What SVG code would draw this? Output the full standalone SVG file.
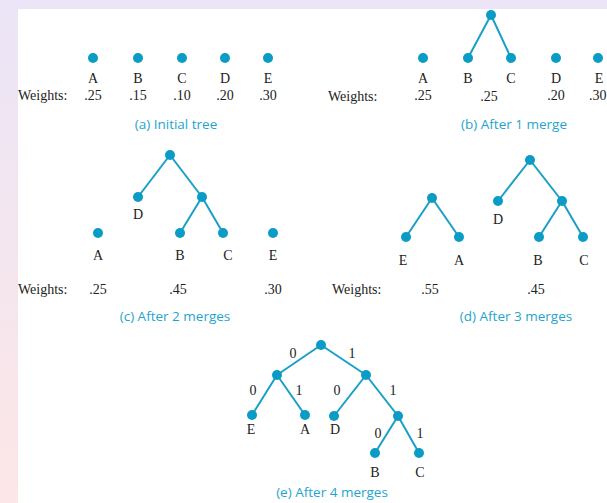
<svg xmlns="http://www.w3.org/2000/svg" width="607" height="503" viewBox="0 0 607 503">
  <defs>
    <linearGradient id="sideFade" x1="0" y1="0" x2="0" y2="1">
      <stop offset="0" stop-color="#ebe5f7"/>
      <stop offset="1" stop-color="#fce6e6"/>
    </linearGradient>
    <style>
      .lbl { font-family: "Liberation Serif", "Times New Roman", serif; font-size: 14px; fill: #222; text-anchor: middle; }
      .wt { font-family: "Liberation Serif", "Times New Roman", serif; font-size: 14px; fill: #222; }
      .cap { font-family: "Open Sans", "Noto Sans", sans-serif; font-size: 13.5px; fill: #1ea5cc; text-anchor: middle; }
      .node { fill: #0b9cc6; }
      .edge { stroke: #1a9fc8; stroke-width: 2; fill: none; stroke-linecap: round; }
    </style>
  </defs>

  <!-- page backdrop -->
  <rect x="0" y="0" width="607" height="503" fill="url(#sideFade)"/>
  <rect x="0" y="0" width="607" height="9" fill="#ebe5f7"/>
  <rect x="18" y="9" width="589" height="494" fill="#ffffff"/>

  <!-- (a) Initial tree -->
  <g id="panel-a">
    <g id="a-A"><circle class="node" cx="93" cy="58" r="5"/><text class="lbl" x="93" y="83">A</text><text class="lbl" x="93" y="100">.25</text></g>
    <g id="a-B"><circle class="node" cx="138" cy="58" r="5"/><text class="lbl" x="138" y="83">B</text><text class="lbl" x="138" y="100">.15</text></g>
    <g id="a-C"><circle class="node" cx="182" cy="58" r="5"/><text class="lbl" x="182" y="83">C</text><text class="lbl" x="182" y="100">.10</text></g>
    <g id="a-D"><circle class="node" cx="225" cy="58" r="5"/><text class="lbl" x="225" y="83">D</text><text class="lbl" x="225" y="100">.20</text></g>
    <g id="a-E"><circle class="node" cx="268" cy="58" r="5"/><text class="lbl" x="268" y="83">E</text><text class="lbl" x="268" y="100">.30</text></g>
    <text class="wt" x="18" y="100">Weights:</text>
    <text class="cap" x="176" y="129">(a)  Initial tree</text>
  </g>

  <!-- (b) After 1 merge -->
  <g id="panel-b">
    <g id="b-edges">
      <line class="edge" x1="491" y1="15" x2="468" y2="58"/>
      <line class="edge" x1="491" y1="15" x2="511" y2="58"/>
    </g>
    <g id="b-BC"><circle class="node" cx="491" cy="15" r="5"/></g>
    <g id="b-A"><circle class="node" cx="423" cy="58" r="5"/><text class="lbl" x="423" y="83">A</text><text class="lbl" x="423" y="100">.25</text></g>
    <g id="b-B"><circle class="node" cx="468" cy="58" r="5"/><text class="lbl" x="468" y="83">B</text></g>
    <g id="b-C"><circle class="node" cx="511" cy="58" r="5"/><text class="lbl" x="511" y="83">C</text></g>
    <text class="lbl" x="489" y="101">.25</text>
    <g id="b-D"><circle class="node" cx="556" cy="58" r="5"/><text class="lbl" x="556" y="83">D</text><text class="lbl" x="556" y="100">.20</text></g>
    <g id="b-E"><circle class="node" cx="598" cy="58" r="5"/><text class="lbl" x="599" y="83">E</text><text class="wt" x="589" y="100">.30</text></g>
    <text class="wt" x="328" y="101">Weights:</text>
    <text class="cap" x="514" y="129">(b)  After 1 merge</text>
  </g>

  <!-- (c) After 2 merges -->
  <g id="panel-c">
    <g id="c-edges">
      <line class="edge" x1="170" y1="155" x2="138" y2="197"/>
      <line class="edge" x1="170" y1="155" x2="202" y2="197"/>
      <line class="edge" x1="202" y1="197" x2="180" y2="233"/>
      <line class="edge" x1="202" y1="197" x2="223" y2="233"/>
    </g>
    <g id="c-root"><circle class="node" cx="170" cy="155" r="5"/></g>
    <g id="c-D"><circle class="node" cx="138" cy="197" r="5"/><text class="lbl" x="138" y="219">D</text></g>
    <g id="c-BC"><circle class="node" cx="202" cy="197" r="5"/></g>
    <g id="c-A"><circle class="node" cx="98" cy="233" r="5"/><text class="lbl" x="98" y="260">A</text></g>
    <g id="c-B"><circle class="node" cx="180" cy="233" r="5"/><text class="lbl" x="180" y="260">B</text></g>
    <g id="c-C"><circle class="node" cx="223" cy="233" r="5"/><text class="lbl" x="228" y="260">C</text></g>
    <g id="c-E"><circle class="node" cx="273" cy="233" r="5"/><text class="lbl" x="273" y="260">E</text></g>
    <text class="wt" x="18" y="294">Weights:</text>
    <text class="lbl" x="98" y="294">.25</text>
    <text class="lbl" x="178" y="294">.45</text>
    <text class="lbl" x="273" y="294">.30</text>
    <text class="cap" x="175" y="321">(c)  After 2 merges</text>
  </g>

  <!-- (d) After 3 merges -->
  <g id="panel-d">
    <g id="d-edges">
      <line class="edge" x1="432" y1="198" x2="406" y2="237"/>
      <line class="edge" x1="432" y1="198" x2="459" y2="237"/>
      <line class="edge" x1="530" y1="160" x2="498" y2="201"/>
      <line class="edge" x1="530" y1="160" x2="562" y2="201"/>
      <line class="edge" x1="562" y1="201" x2="539" y2="237"/>
      <line class="edge" x1="562" y1="201" x2="583" y2="237"/>
    </g>
    <g id="d-EA"><circle class="node" cx="432" cy="198" r="5"/></g>
    <g id="d-E"><circle class="node" cx="406" cy="237" r="5"/><text class="lbl" x="403" y="265">E</text></g>
    <g id="d-A"><circle class="node" cx="459" cy="237" r="5"/><text class="lbl" x="459" y="265">A</text></g>
    <g id="d-root"><circle class="node" cx="530" cy="160" r="5"/></g>
    <g id="d-D"><circle class="node" cx="498" cy="201" r="5"/><text class="lbl" x="498" y="224">D</text></g>
    <g id="d-BC"><circle class="node" cx="562" cy="201" r="5"/></g>
    <g id="d-B"><circle class="node" cx="539" cy="237" r="5"/><text class="lbl" x="538" y="265">B</text></g>
    <g id="d-C"><circle class="node" cx="583" cy="237" r="5"/><text class="lbl" x="584" y="265">C</text></g>
    <text class="wt" x="332" y="294">Weights:</text>
    <text class="lbl" x="430" y="294">.55</text>
    <text class="lbl" x="536" y="294">.45</text>
    <text class="cap" x="516" y="321">(d)  After 3 merges</text>
  </g>

  <!-- (e) After 4 merges -->
  <g id="panel-e">
    <g id="e-edges">
      <line class="edge" x1="321" y1="345" x2="277" y2="375"/>
      <line class="edge" x1="321" y1="345" x2="366" y2="375"/>
      <line class="edge" x1="277" y1="375" x2="252" y2="415"/>
      <line class="edge" x1="277" y1="375" x2="305" y2="415"/>
      <line class="edge" x1="366" y1="375" x2="334" y2="416"/>
      <line class="edge" x1="366" y1="375" x2="398" y2="416"/>
      <line class="edge" x1="398" y1="416" x2="375" y2="453"/>
      <line class="edge" x1="398" y1="416" x2="419" y2="453"/>
    </g>
    <g id="e-bits">
      <text class="lbl" x="293" y="358">0</text>
      <text class="lbl" x="352" y="358">1</text>
      <text class="lbl" x="253" y="395">0</text>
      <text class="lbl" x="299" y="395">1</text>
      <text class="lbl" x="337" y="395">0</text>
      <text class="lbl" x="393" y="395">1</text>
      <text class="lbl" x="378" y="438">0</text>
      <text class="lbl" x="420" y="438">1</text>
    </g>
    <g id="e-root"><circle class="node" cx="321" cy="345" r="5"/></g>
    <g id="e-EA"><circle class="node" cx="277" cy="375" r="5"/></g>
    <g id="e-DBC"><circle class="node" cx="366" cy="375" r="5"/></g>
    <g id="e-E"><circle class="node" cx="252" cy="415" r="5"/><text class="lbl" x="251" y="434">E</text></g>
    <g id="e-A"><circle class="node" cx="305" cy="415" r="5"/><text class="lbl" x="305" y="434">A</text></g>
    <g id="e-D"><circle class="node" cx="334" cy="416" r="5"/><text class="lbl" x="335" y="434">D</text></g>
    <g id="e-BC"><circle class="node" cx="398" cy="416" r="5"/></g>
    <g id="e-B"><circle class="node" cx="375" cy="453" r="5"/><text class="lbl" x="375" y="477">B</text></g>
    <g id="e-C"><circle class="node" cx="419" cy="453" r="5"/><text class="lbl" x="420" y="477">C</text></g>
    <text class="cap" x="332" y="497">(e)  After 4 merges</text>
  </g>
</svg>
